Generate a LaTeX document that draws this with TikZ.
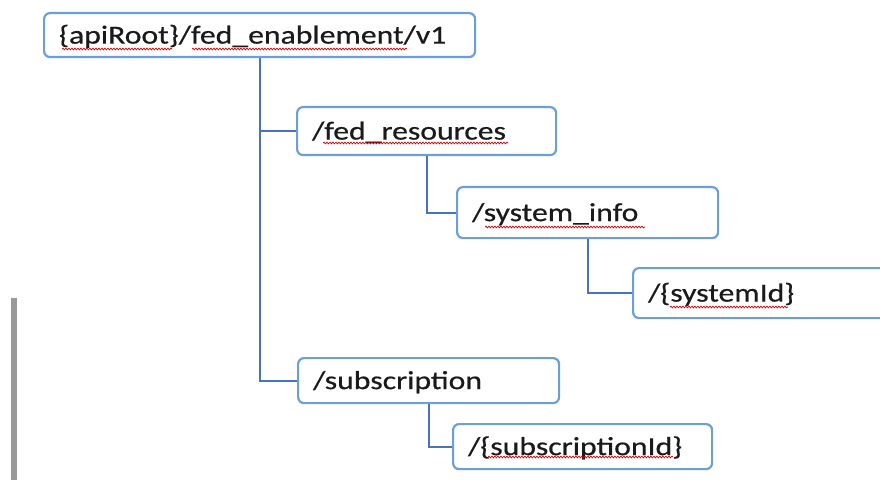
\documentclass[tikz,border=0pt]{standalone}
\usepackage{fontspec}
\setmainfont[FakeStretch=1.22, FakeBold=0.5]{Carlito}
\usetikzlibrary{decorations.pathmorphing}
\definecolor{boxblue}{HTML}{6A9FDA}
\definecolor{lineblue}{HTML}{4A72C4}
\definecolor{txt}{HTML}{1A1A1A}
\definecolor{barg}{HTML}{9A9A9A}
\tikzset{
  box/.style={draw=boxblue, line width=2.2pt, rounded corners=6pt, anchor=north west,
    inner xsep=15pt, inner ysep=0pt, align=left, text=txt,
    font=\fontsize{26}{30}\selectfont, text height=20pt, text depth=3pt},
  conn/.style={draw=lineblue, line width=2.2pt},
  squig/.style={draw=red!85!black, line width=0.7pt,
    decorate, decoration={snake, amplitude=0.9pt, segment length=3pt}}
}
\begin{document}
\begin{tikzpicture}[x=1pt, y=-1pt]
\useasboundingbox (0,0) rectangle (880,481);
\clip (0,0) rectangle (880,481);
\fill[barg] (11,298) rectangle (17,480);

\node[box, text width=401pt, minimum height=44pt] (root) at (43,12) {\{apiRoot\}/fed\_enablement/v1};
\node[box, text width=229pt, minimum height=48pt] (fedres) at (296,106) {/fed\_resources};
\node[box, text width=231pt, minimum height=51pt] (sysinfo) at (456,186) {/system\_info};
\node[box, text width=270pt, minimum height=50pt] (sysid) at (632,267) {/\{systemId\}};
\node[box, text width=231pt, minimum height=45pt] (subs) at (297,357) {/subscription};
\node[box, text width=229pt, minimum height=45pt] (subsid) at (452,423) {/\{subscriptionId\}};

\draw[conn] (root.south) |- (fedres.west);
\draw[conn] (root.south) |- (subs.west);
\draw[conn] (fedres.south) |- (sysinfo.west);
\draw[conn] (sysinfo.south) |- (sysid.west);
\draw[conn] (subs.south) |- (subsid.west);

\draw[squig] (62,49) -- (172,49);
\draw[squig] (192,49) -- (407,49);
\draw[squig] (323,143) -- (508,143);
\draw[squig] (485,227) -- (645,227);
\draw[squig] (670,307) -- (788,307);
\draw[squig] (488,457) -- (673,457);
\end{tikzpicture}
\end{document}
